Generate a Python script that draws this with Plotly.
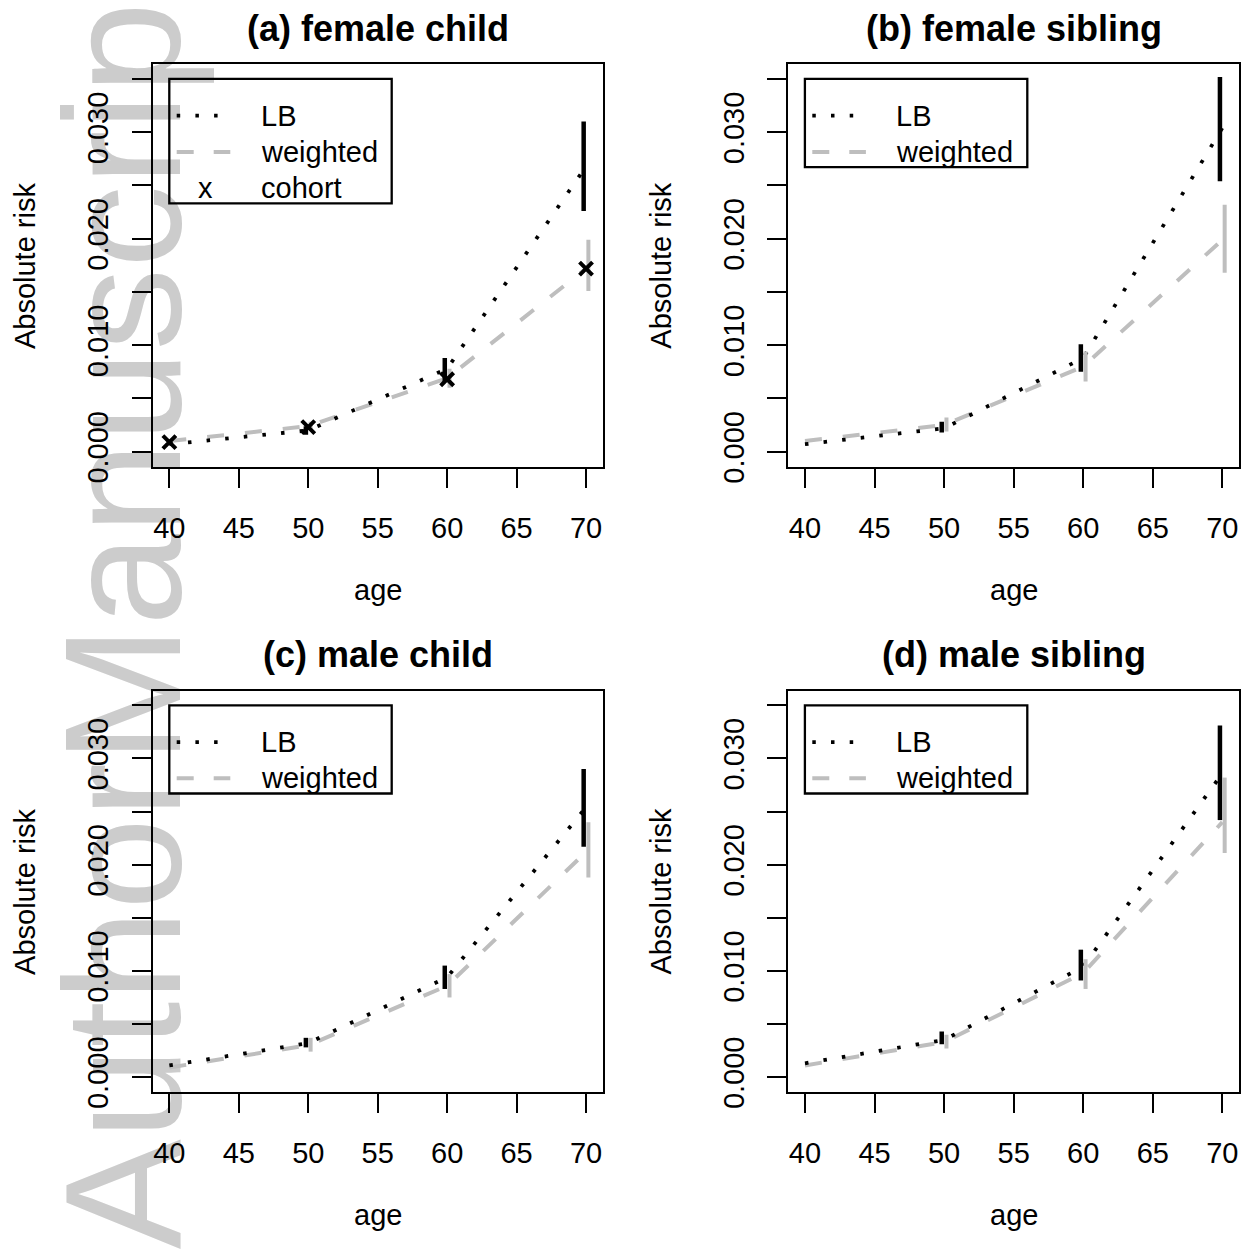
import plotly.graph_objects as go

# ---------------- data ----------------
ages = [40, 50, 60, 70]
ci_ages = [50, 60, 70]
panel_titles = ["(a) female child", "(b) female sibling", "(c) male child", "(d) male sibling"]
x_ticks = [40, 45, 50, 55, 60, 65, 70]
y_ticks = [0.000, 0.005, 0.010, 0.015, 0.020, 0.025, 0.030, 0.035]
y_tick_text = ["0.000", "", "0.010", "", "0.020", "", "0.030", ""]

lb_a = [0.0007, 0.0020, 0.0078, 0.0268]
w_a = [0.0010, 0.0024, 0.0069, 0.0172]
lb_lo_a = [0.0016, 0.0066, 0.0226]
lb_hi_a = [0.0024, 0.0088, 0.0310]
w_lo_a = [0.0020, 0.0060, 0.0151]
w_hi_a = [0.0028, 0.0078, 0.0199]
cohort_a = [0.0009, 0.0023, 0.0068, 0.0172]

lb_b = [0.0007, 0.0022, 0.0088, 0.0304]
w_b = [0.0010, 0.0025, 0.0080, 0.0199]
lb_lo_b = [0.0018, 0.0075, 0.0254]
lb_hi_b = [0.0028, 0.0101, 0.0352]
w_lo_b = [0.0019, 0.0066, 0.0168]
w_hi_b = [0.0032, 0.0094, 0.0232]

lb_c = [0.0011, 0.0032, 0.0094, 0.0254]
w_c = [0.0009, 0.0030, 0.0086, 0.0212]
lb_lo_c = [0.0028, 0.0083, 0.0217]
lb_hi_c = [0.0037, 0.0105, 0.0290]
w_lo_c = [0.0024, 0.0075, 0.0188]
w_hi_c = [0.0037, 0.0097, 0.0240]

lb_d = [0.0013, 0.0035, 0.0104, 0.0286]
w_d = [0.0011, 0.0033, 0.0098, 0.0240]
lb_lo_d = [0.0031, 0.0091, 0.0242]
lb_hi_d = [0.0043, 0.0120, 0.0331]
w_lo_d = [0.0027, 0.0083, 0.0211]
w_hi_d = [0.0040, 0.0111, 0.0282]

panels = [
    dict(lb=lb_a, w=w_a, lb_lo=lb_lo_a, lb_hi=lb_hi_a, w_lo=w_lo_a, w_hi=w_hi_a, cohort=cohort_a),
    dict(lb=lb_b, w=w_b, lb_lo=lb_lo_b, lb_hi=lb_hi_b, w_lo=w_lo_b, w_hi=w_hi_b, cohort=None),
    dict(lb=lb_c, w=w_c, lb_lo=lb_lo_c, lb_hi=lb_hi_c, w_lo=w_lo_c, w_hi=w_hi_c, cohort=None),
    dict(lb=lb_d, w=w_d, lb_lo=lb_lo_d, lb_hi=lb_hi_d, w_lo=w_lo_d, w_hi=w_hi_d, cohort=None),
]

# ---------------- layout geometry (pixels) ----------------
W, H = 1247, 1254
FONT = "Liberation Sans, Arial, Helvetica, sans-serif"
GRAY = "#BEBEBE"
boxes = [  # left, top, right, bottom
    (152.7, 65.0, 602.7, 473.0),
    (788.3, 65.0, 1239.0, 473.0),
    (152.7, 700.0, 602.7, 1107.0),
    (788.3, 700.0, 1239.0, 1107.0),
]
BAR_OFF = 0.17


def px(x):
    return x / W


def py(y):
    return 1 - y / H


fig = go.Figure()
layout = dict(
    width=W, height=H, autosize=False,
    margin=dict(l=0, r=0, t=0, b=0),
    paper_bgcolor="white", plot_bgcolor="rgba(0,0,0,0)",
    showlegend=False,
    font=dict(family=FONT, color="black", size=29),
)
shapes = []
annotations = []

# watermark (behind everything)
shapes.append(dict(
    type="rect", xref="paper", yref="paper",
    x0=0, x1=px(214), y0=py(1262), y1=py(-40),
    line=dict(width=0), fillcolor="rgba(0,0,0,0)", layer="below",
    label=dict(text="AuthorManuscript", textangle=-90, textposition="middle center",
               font=dict(size=165, color="#CCCCCC", family=FONT)),
))

for i, (p, box) in enumerate(zip(panels, boxes)):
    n = "" if i == 0 else str(i + 1)
    xa, ya = "x" + n, "y" + n
    l, t, r, b = box
    layout["xaxis" + n] = dict(
        domain=[px(l), px(r)], anchor=ya, range=[38.8, 71.2],
        tickvals=x_ticks, ticks="outside", ticklen=19, tickwidth=2.3, tickcolor="black",
        showline=True, linecolor="black", linewidth=2.3, mirror=True,
        showgrid=False, zeroline=False, tickfont=dict(size=29, color="black", family=FONT),
        ticklabelstandoff=15,
    )
    layout["yaxis" + n] = dict(
        domain=[py(b), py(t)], anchor=xa, range=[-0.0014, 0.0364],
        tickvals=y_ticks, ticktext=y_tick_text, tickangle=-90,
        ticks="outside", ticklen=19, tickwidth=2.3, tickcolor="black",
        showline=True, linecolor="black", linewidth=2.3, mirror=True,
        showgrid=False, zeroline=False, tickfont=dict(size=29, color="black", family=FONT),
        ticklabelstandoff=12,
    )

    # weighted (dashed gray)
    fig.add_trace(go.Scatter(x=ages, y=p["w"], mode="lines", xaxis=xa, yaxis=ya,
                             line=dict(color=GRAY, width=4, dash="17px,21px")))
    # LB (dotted black)
    fig.add_trace(go.Scatter(x=ages, y=p["lb"], mode="lines", xaxis=xa, yaxis=ya,
                             line=dict(color="black", width=3.8, dash="3.5px,15.2px")))
    # CI bars
    bx, by = [], []
    for a_, lo, hi in zip(ci_ages, p["w_lo"], p["w_hi"]):
        bx += [a_ + BAR_OFF, a_ + BAR_OFF, None]
        by += [lo, hi, None]
    fig.add_trace(go.Scatter(x=bx, y=by, mode="lines", xaxis=xa, yaxis=ya,
                             line=dict(color=GRAY, width=4)))
    bx, by = [], []
    for a_, lo, hi in zip(ci_ages, p["lb_lo"], p["lb_hi"]):
        bx += [a_ - BAR_OFF, a_ - BAR_OFF, None]
        by += [lo, hi, None]
    fig.add_trace(go.Scatter(x=bx, y=by, mode="lines", xaxis=xa, yaxis=ya,
                             line=dict(color="black", width=4.5)))
    if p["cohort"] is not None:
        fig.add_trace(go.Scatter(x=ages, y=p["cohort"], mode="markers", xaxis=xa, yaxis=ya,
                                 marker=dict(symbol="x-thin", size=13, color="black",
                                             line=dict(color="black", width=4))))

    cx = (l + r) / 2
    # panel title
    annotations.append(dict(text="<b>" + panel_titles[i] + "</b>", xref="paper", yref="paper",
                            x=px(cx), y=py(t - 36), xanchor="center", yanchor="middle",
                            showarrow=False, font=dict(size=36, family=FONT, color="black")))
    # axis titles
    annotations.append(dict(text="age", xref="paper", yref="paper",
                            x=px(cx), y=py(b + 125), xanchor="center", yanchor="middle",
                            showarrow=False, font=dict(size=29, family=FONT, color="black")))
    annotations.append(dict(text="Absolute risk", xref="paper", yref="paper",
                            x=px(l - 127), y=py((t + b) / 2), xanchor="center", yanchor="middle",
                            textangle=-90, showarrow=False,
                            font=dict(size=29, family=FONT, color="black")))

    # legend (R style, drawn manually)
    labels = ["LB", "weighted"] + (["cohort"] if p["cohort"] is not None else [])
    lx0, ly0 = l + 16.6, t + 15
    lx1 = l + 239
    ly1 = ly0 + 16 + 36.7 * len(labels)
    shapes.append(dict(type="rect", xref="paper", yref="paper",
                       x0=px(lx0), x1=px(lx1), y0=py(ly1), y1=py(ly0),
                       line=dict(color="black", width=2.3), fillcolor="rgba(0,0,0,0)"))
    rows = [t + 52.3 + 36.7 * k for k in range(len(labels))]
    shapes.append(dict(type="line", xref="paper", yref="paper",
                       x0=px(l + 24), x1=px(l + 77.6), y0=py(rows[0]), y1=py(rows[0]),
                       line=dict(color="black", width=3.8, dash="3.5px,15.2px")))
    shapes.append(dict(type="line", xref="paper", yref="paper",
                       x0=px(l + 24), x1=px(l + 77.6), y0=py(rows[1]), y1=py(rows[1]),
                       line=dict(color=GRAY, width=4, dash="17px,20px")))
    if len(labels) == 3:
        annotations.append(dict(text="x", xref="paper", yref="paper",
                                x=px(l + 52.3), y=py(rows[2]), xanchor="center", yanchor="middle",
                                showarrow=False, font=dict(size=29, family=FONT, color="black")))
    for lab, ry in zip(labels, rows):
        annotations.append(dict(text=lab, xref="paper", yref="paper",
                                x=px(l + 106), y=py(ry), xanchor="left", yanchor="middle",
                                showarrow=False, font=dict(size=29, family=FONT, color="black")))

layout["shapes"] = shapes
layout["annotations"] = annotations
fig.update_layout(**layout)
fig.write_html("out.html", config={"displayModeBar": False},
               post_script="document.body.style.margin='0px';")
